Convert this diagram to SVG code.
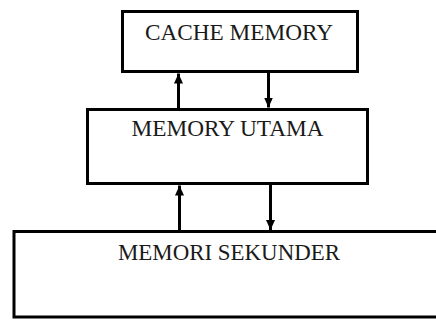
<svg xmlns="http://www.w3.org/2000/svg" width="436" height="320" viewBox="0 0 436 320">
<defs>
<style>
.box{fill:#fff;stroke:#000;stroke-width:3}
.lbl{font-family:"Liberation Serif","Times New Roman",serif;font-size:22.5px;fill:#1a1a1a;text-anchor:middle}
.con{stroke:#000;stroke-width:3;fill:none}
</style>
<marker id="ah" markerUnits="userSpaceOnUse" markerWidth="10" markerHeight="10" viewBox="0 0 10 10" refX="10" refY="5" orient="auto">
<path d="M0,0.5 L10,5 L0,9.5 Z" fill="#000"/>
</marker>
</defs>
<rect x="0" y="0" width="436" height="320" fill="#fff"/>
<g id="connectors">
<line class="con" x1="178.5" y1="109" x2="178.5" y2="73.5" marker-end="url(#ah)"/>
<line class="con" x1="268.5" y1="73" x2="268.5" y2="107.5" marker-end="url(#ah)"/>
<line class="con" x1="179.5" y1="231" x2="179.5" y2="185.5" marker-end="url(#ah)"/>
<line class="con" x1="270.5" y1="185" x2="270.5" y2="230" marker-end="url(#ah)"/>
</g>
<g id="cache">
<rect class="box" x="122.5" y="11.5" width="235" height="60"/>
<text class="lbl" x="239" y="40" textLength="188" lengthAdjust="spacingAndGlyphs">CACHE MEMORY</text>
</g>
<g id="utama">
<rect class="box" x="87.5" y="109.5" width="280" height="74"/>
<text class="lbl" x="227.5" y="136" textLength="192" lengthAdjust="spacingAndGlyphs">MEMORY UTAMA</text>
</g>
<g id="sekunder">
<rect class="box" x="14" y="231.5" width="430" height="85.5"/>
<text class="lbl" x="229" y="260" textLength="222" lengthAdjust="spacingAndGlyphs">MEMORI SEKUNDER</text>
</g>
</svg>
